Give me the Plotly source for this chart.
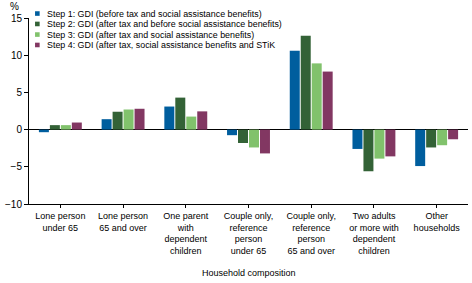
import plotly.graph_objects as go

# categories and series
categories = [
    "Lone person<br>under 65",
    "Lone person<br>65 and over",
    "One parent<br>with<br>dependent<br>children",
    "Couple only,<br>reference<br>person<br>under 65",
    "Couple only,<br>reference<br>person<br>65 and over",
    "Two adults<br>or more with<br>dependent<br>children",
    "Other<br>households",
]
series_names = [
    "Step 1: GDI (before tax and social assistance benefits)",
    "Step 2: GDI (after tax and before social assistance benefits)",
    "Step 3: GDI (after tax and social assistance benefits)",
    "Step 4: GDI (after tax, social assistance benefits and STiK",
]
step1 = [-0.35, 1.4, 3.1, -0.75, 10.6, -2.6, -4.9]
step2 = [0.6, 2.4, 4.3, -1.8, 12.6, -5.6, -2.4]
step3 = [0.6, 2.7, 1.75, -2.4, 8.9, -3.9, -2.1]
step4 = [0.95, 2.8, 2.45, -3.2, 7.8, -3.6, -1.3]
colors = ["#005E9E", "#336236", "#81C26C", "#823762"]

y_ticks = [-10, -5, 0, 5, 10, 15]

fig = go.Figure()
for name, vals, col in zip(series_names, [step1, step2, step3, step4], colors):
    fig.add_trace(go.Bar(x=categories, y=vals, name=name, marker_color=col,
                         marker_line_width=0, showlegend=False))

font = "Liberation Sans, Arial, sans-serif"

# small legend, drawn by hand so the rows sit close together like the original
leg_y = [1.024, 0.968, 0.911, 0.855]
shapes = []
annotations = []
for name, col, yy in zip(series_names, colors, leg_y):
    shapes.append(dict(type="rect", xref="paper", yref="paper",
                       xsizemode="pixel", ysizemode="pixel",
                       xanchor=0.019, yanchor=yy,
                       x0=-2.3, x1=2.3, y0=-2.3, y1=2.3,
                       fillcolor=col, line_width=0))
    annotations.append(dict(text=name, xref="paper", yref="paper",
                            x=0.0364, y=yy, xanchor="left", yanchor="middle",
                            showarrow=False, font=dict(size=8.9, color="#000")))

annotations.append(dict(text="%", xref="paper", yref="paper", x=-0.034, y=1.064,
                        xanchor="center", yanchor="middle", showarrow=False,
                        font=dict(size=10, color="#000")))
annotations.append(dict(text="Household composition", xref="paper", yref="paper",
                        x=0.5, y=-0.371, xanchor="center", yanchor="middle",
                        showarrow=False, font=dict(size=9, color="#000")))

fig.update_layout(
    width=472, height=283,
    margin=dict(l=29, r=4, t=18, b=79),
    plot_bgcolor="white", paper_bgcolor="white",
    font=dict(family=font, size=9, color="#000"),
    barmode="group", bargap=0.30, bargroupgap=0.09,
    shapes=shapes, annotations=annotations,
    hovermode=False,
)
fig.update_xaxes(showline=True, linecolor="black", linewidth=1,
                 ticks="outside", ticklen=3, tickcolor="black",
                 tickfont=dict(size=9), showgrid=False)
fig.update_yaxes(range=[-10, 15], tickvals=y_ticks, showline=True,
                 linecolor="black", linewidth=1, ticks="outside", ticklen=4,
                 tickcolor="black", tickfont=dict(size=10),
                 showgrid=True, gridcolor="white", gridwidth=1,
                 zeroline=True, zerolinecolor="black", zerolinewidth=1,
                 layer="above traces")

# page body has an 8px margin by default, drop it so the chart sits at 0,0
fig.write_html("out.html", config={"displayModeBar": False},
               post_script="document.body.style.margin='0';")
